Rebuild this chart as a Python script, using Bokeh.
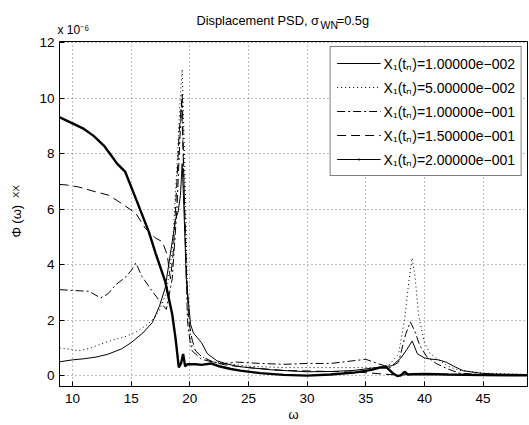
import numpy as np
from bokeh.plotting import figure
from bokeh.models import Range1d, Label, Legend, LegendItem, FixedTicker, LinearAxis
from bokeh.embed import file_html
from bokeh.resources import INLINE

# ---- data (values in units of 1e-6) ----
w_a = [8.9, 10, 11, 12, 13, 14.2, 15, 16, 16.8, 17.4, 17.9, 18.5, 18.8, 19.0, 19.2, 19.35, 19.5, 19.7, 20.06,
       20.3, 20.6, 21.0, 21.5, 22.3, 23, 24, 25, 27, 30, 32, 34, 35.5, 36.5, 37.25, 38.0, 38.5, 38.96, 39.4,
       40.0, 40.5, 41.2, 41.9, 42.5, 43.3, 44.8, 46, 48.8]
v_a = [0.51, 0.58, 0.62, 0.68, 0.78, 0.98, 1.2, 1.55, 1.92, 2.5, 3.17, 4.84, 5.68, 5.9, 6.5, 7.65, 6.0, 3.5, 1.87,
       1.55, 1.4, 1.2, 0.8, 0.55, 0.45, 0.35, 0.3, 0.22, 0.15, 0.16, 0.2, 0.28, 0.33, 0.37, 0.65, 0.95, 1.26, 0.8,
       0.65, 0.61, 0.58, 0.49, 0.35, 0.19, 0.1, 0.07, 0.05]

w_b = [8.9, 9.5, 10.5, 11.5, 12.4, 13.5, 14.66, 15.5, 16.4, 17.0, 17.5, 18.0, 18.5, 18.9, 19.15, 19.35, 19.55,
       19.8, 20.1, 20.5, 21, 22, 23, 25, 28, 31, 34, 36, 37, 37.8, 38.3, 38.7, 38.95, 39.2, 39.5, 40.0, 40.5,
       41.5, 42, 43, 45, 48.8]
v_b = [1.0, 0.98, 0.9, 1.0, 1.15, 1.3, 1.44, 1.6, 1.86, 2.1, 2.46, 3.0, 4.5, 7.5, 9.8, 11.05, 8.0,
       3.0, 1.2, 0.9, 0.7, 0.5, 0.45, 0.35, 0.3, 0.3, 0.3, 0.3, 0.4, 0.8, 2.0, 3.5, 4.25, 3.6, 2.2, 1.2, 0.8,
       0.5, 0.35, 0.2, 0.1, 0.05]

w_c = [8.9, 10, 11.4, 12.4, 13.0, 13.7, 14.5, 15.0, 15.4, 15.9, 16.8, 17.65, 18.0, 18.5, 18.9, 19.15, 19.35,
       19.55, 19.8, 20.0, 20.2, 21, 22, 23, 24, 26, 28, 30, 32, 34, 35, 36, 37.1, 37.8, 38.4, 38.8, 39.2, 39.6,
       40.2, 41, 42, 43, 45, 48.8]
v_c = [3.11, 3.08, 3.05, 2.81, 2.95, 3.29, 3.55, 3.8, 4.07, 3.6, 3.05, 2.58, 2.4, 3.5, 6.0, 8.5, 10.2,
       6.0, 2.0, 1.3, 0.9, 0.6, 0.5, 0.45, 0.5, 0.45, 0.42, 0.45, 0.45, 0.55, 0.6, 0.45, 0.3, 0.5, 1.5, 1.95, 1.6,
       1.1, 0.7, 0.45, 0.25, 0.1, 0.05, 0.03]

w_d = [8.9, 9.5, 10.5, 12.0, 13.1, 14.2, 15.4, 16.2, 17.1, 17.65, 18.07, 18.35, 18.6, 18.9, 19.1, 19.3, 19.5,
       19.7, 19.9, 20.2, 20.5, 21, 22, 23, 25, 28, 30, 33, 35, 37, 38, 40, 45, 48.8]
v_d = [6.9, 6.88, 6.81, 6.63, 6.51, 6.21, 5.86, 5.32, 4.96, 4.84, 4.37, 3.5, 4.5, 7.0, 8.8, 9.9, 7.0,
       4.0, 2.0, 1.3, 0.9, 0.7, 0.5, 0.4, 0.3, 0.2, 0.18, 0.15, 0.12, 0.05, 0.04, 0.06, 0.03, 0.02]

w_e = [8.9, 9.5, 10.0, 10.97, 11.8, 12.67, 13.1, 13.8, 14.5, 15.4, 16.5, 17.1, 17.9, 18.5, 18.8, 19.06, 19.25,
       19.43, 19.6, 19.8, 20.5, 21.0, 21.8, 22.5, 23.5, 24.3, 26, 28, 30, 32, 34, 35.5, 36.25, 36.8, 37.3, 37.7,
       38.0, 38.3, 38.6, 39, 40, 42, 45, 48.8]
v_e = [9.32, 9.2, 9.1, 8.9, 8.65, 8.3, 8.06, 7.65, 7.35, 6.39, 5.2, 4.4, 3.41, 2.22, 1.3, 0.31, 0.45,
       0.79, 0.35, 0.42, 0.42, 0.4, 0.45, 0.35, 0.25, 0.19, 0.1, 0.04, 0.01, 0.05, 0.12, 0.22, 0.31, 0.3, 0.1, 0.0,
       0.02, 0.15, 0.05, 0.06, 0.07, 0.05, 0.03, 0.02]

labels = ["X\u2081(t\u2099)=1.00000e\u2212002",
          "X\u2081(t\u2099)=5.00000e\u2212002",
          "X\u2081(t\u2099)=1.00000e\u2212001",
          "X\u2081(t\u2099)=1.50000e\u2212001",
          "X\u2081(t\u2099)=2.00000e\u2212001"]

x_ticks = [10, 15, 20, 25, 30, 35, 40, 45]
y_ticks = [0, 2, 4, 6, 8, 10, 12]

FONT = "Liberation Sans"
NB = "\u00a0"
X0, X1 = 8.89, 48.79
Y0, Y1 = -0.38, 12.05
W, H = 528, 424

p = figure(width=W, height=H, output_backend="svg", toolbar_location=None,
           x_range=Range1d(X0, X1), y_range=Range1d(Y0, Y1),
           min_border_left=59, min_border_right=1, min_border_top=37, min_border_bottom=38)
p.background_fill_color = "white"
p.border_fill_color = "white"
p.outline_line_color = "black"
p.outline_line_width = 1

for ax in (p.xaxis[0], p.yaxis[0]):
    ax.major_tick_in = 5
    ax.major_tick_out = 0
    ax.minor_tick_line_color = None
    ax.axis_line_color = "black"
    ax.major_tick_line_color = "black"
    ax.major_label_text_font = FONT
    ax.major_label_text_font_size = "13.5px"
    ax.major_label_text_color = "black"
    ax.axis_label_text_font = FONT
    ax.axis_label_text_font_style = "normal"
    ax.axis_label_text_color = "black"
p.xaxis[0].ticker = FixedTicker(ticks=x_ticks)
p.yaxis[0].ticker = FixedTicker(ticks=y_ticks)
p.xaxis[0].major_label_standoff = 7
p.yaxis[0].major_label_standoff = 5
p.xaxis[0].axis_label = "\u03c9"
p.xaxis[0].axis_label_text_font_size = "13px"
p.xaxis[0].axis_label_standoff = 1
# subscript of the y label rides on the tick axis, the main part on an outer label-only axis
p.yaxis[0].axis_label = NB * 17 + "XX"
p.yaxis[0].axis_label_text_font_size = "9.5px"
p.yaxis[0].axis_label_standoff = 15

ylab_axis = LinearAxis(ticker=FixedTicker(ticks=[]), axis_line_color=None, major_tick_line_color=None,
                       minor_tick_line_color=None, major_label_standoff=0, major_tick_out=0, major_tick_in=0,
                       axis_label="\u03a6 (\u03c9)" + NB * 4, axis_label_standoff=-16,
                       axis_label_text_font=FONT, axis_label_text_font_size="13px",
                       axis_label_text_font_style="normal", axis_label_text_color="black")
p.add_layout(ylab_axis, "left")

for g in (p.xgrid[0], p.ygrid[0]):
    g.grid_line_color = "#444444"
    g.grid_line_dash = "1 3"
    g.grid_line_width = 1
    g.grid_line_alpha = 0.7

r_a = p.line(w_a, v_a, line_color="black", line_width=1)
r_b = p.line(w_b, v_b, line_color="black", line_width=1, line_dash="1 3")
r_c = p.line(w_c, v_c, line_color="black", line_width=1, line_dash="8 3 2 3")
r_d = p.line(w_d, v_d, line_color="black", line_width=1, line_dash="9 5")
r_e = p.line(w_e, v_e, line_color="black", line_width=2.4)
# legend-only sample for the line with point markers
r_e_line = p.line([np.nan], [np.nan], line_color="black", line_width=1)
r_e_mark = p.scatter([np.nan], [np.nan], marker="dot", size=8, line_color="black", fill_color="black")

legend = Legend(items=[LegendItem(label=labels[0], renderers=[r_a]),
                       LegendItem(label=labels[1], renderers=[r_b]),
                       LegendItem(label=labels[2], renderers=[r_c]),
                       LegendItem(label=labels[3], renderers=[r_d]),
                       LegendItem(label=labels[4], renderers=[r_e_line, r_e_mark])],
                location="top_right")
legend.label_text_font = FONT
legend.label_text_font_size = "14px"
legend.label_text_color = "black"
legend.glyph_width = 44
legend.glyph_height = 20
legend.label_height = 20
legend.spacing = 4
legend.padding = 6
legend.label_standoff = 3
legend.margin = 5
legend.border_line_color = "black"
legend.border_line_width = 1
legend.background_fill_color = "white"
legend.background_fill_alpha = 1
p.add_layout(legend)

def lab(text, px, py, size, side, align="left", baseline="alphabetic"):
    p.add_layout(Label(x=px, y=py, x_units="canvas", y_units="canvas", text=text,
                       text_font=FONT, text_font_size=size, text_color="black",
                       text_align=align, text_baseline=baseline), side)

# title with subscript (main text leaves room for the subscript)
lab("Displacement PSD, \u03c3" + NB * 5 + "=0.5g", 196, 19.5, "12.8px", "above")
lab("WN", 320, 24, "10.5px", "above")
# exponent
lab("x 10\u207b\u2076", 57, 29.5, "12px", "above")

open("out.html", "w").write(file_html(p, INLINE))
